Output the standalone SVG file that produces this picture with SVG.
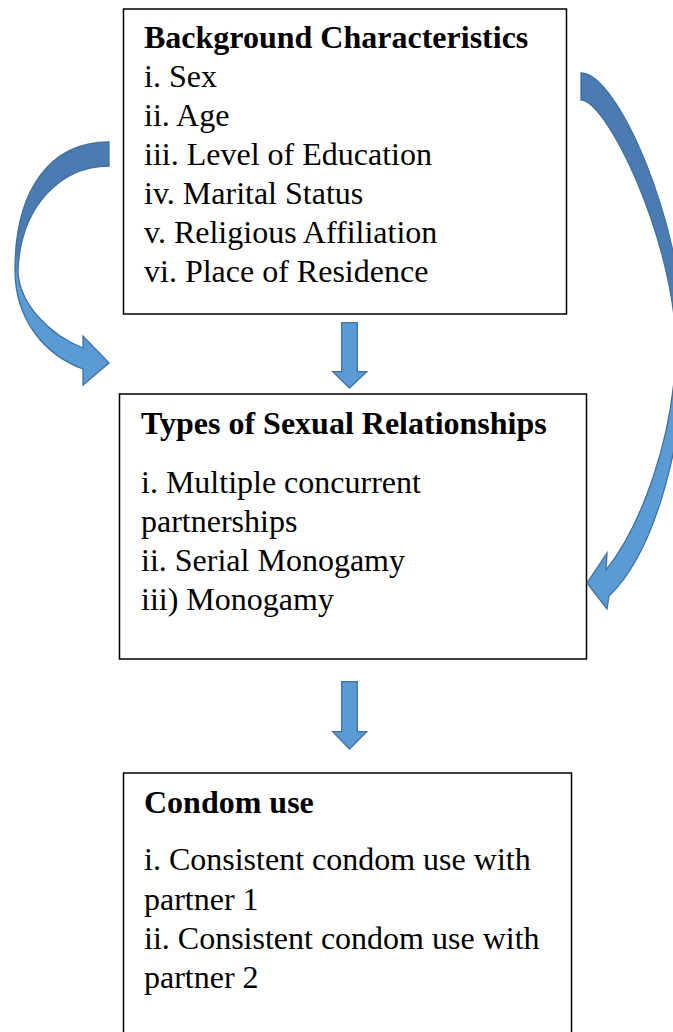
<svg xmlns="http://www.w3.org/2000/svg" width="673" height="1032" viewBox="0 0 673 1032">
<style>
.box{fill:#fff;stroke:#000;stroke-width:1.5}
.t{font-family:"Liberation Serif","Times New Roman",serif;font-size:32px;fill:#000}
.b{font-weight:bold}
.arr{fill:#5B9BD5;stroke:#41719C;stroke-width:1.3;stroke-linejoin:miter}
</style>
<defs>
<linearGradient id="gl" x1="0" y1="0" x2="0" y2="1">
<stop offset="0" stop-color="#4A7CB2"/>
<stop offset="0.45" stop-color="#4A7CB2"/>
<stop offset="0.56" stop-color="#5B9BD5"/>
<stop offset="1" stop-color="#5B9BD5"/>
</linearGradient>
<linearGradient id="gr" x1="0" y1="0" x2="0" y2="1">
<stop offset="0" stop-color="#4A7CB2"/>
<stop offset="0.40" stop-color="#4A7CB2"/>
<stop offset="0.60" stop-color="#5B9BD5"/>
<stop offset="1" stop-color="#5B9BD5"/>
</linearGradient>
</defs>
<g id="node-background">
<rect class="box" x="123.5" y="9" width="443" height="305"/>
<text class="t b" x="144" y="48">Background Characteristics</text>
<text class="t" x="144" y="87">i. Sex</text>
<text class="t" x="144" y="126">ii. Age</text>
<text class="t" x="144" y="165">iii. Level of Education</text>
<text class="t" x="144" y="204">iv. Marital Status</text>
<text class="t" x="144" y="243">v. Religious Affiliation</text>
<text class="t" x="144" y="282">vi. Place of Residence</text>
</g>
<g id="node-types">
<rect class="box" x="119.5" y="394" width="467" height="265"/>
<text class="t b" x="141" y="434">Types of Sexual Relationships</text>
<text class="t" x="141" y="493">i. Multiple concurrent</text>
<text class="t" x="141" y="532">partnerships</text>
<text class="t" x="141" y="571">ii. Serial Monogamy</text>
<text class="t" x="141" y="610">iii) Monogamy</text>
</g>
<g id="node-condom">
<rect class="box" x="123.5" y="773" width="448" height="275"/>
<text class="t b" x="144" y="813">Condom use</text>
<text class="t" x="144" y="870">i. Consistent condom use with</text>
<text class="t" x="144" y="910">partner 1</text>
<text class="t" x="144" y="949">ii. Consistent condom use with</text>
<text class="t" x="144" y="988">partner 2</text>
</g>
<g id="connectors">
<path class="arr" d="M341.7,322.7 H357.3 V371.7 H366.7 L349.5,388 L332.7,371.7 H341.7 Z"/>
<path class="arr" d="M341.7,681.7 H357.3 V731.7 H366.7 L349.5,749 L332.7,731.7 H341.7 Z"/>
<path class="arr" style="fill:url(#gl)" d="M109,142 C50,142 15,190 15,270 C15,320 45,355 83,369 L83,385 L109,363 L83,336 L83,348 C50,335 20,305 18,272 C20,205 62,166 109,166 Z"/>
<path class="arr" style="fill:url(#gr)" d="M581,73 C617,73 682,220 684,340 C685,450 652,555 609,596 L607,609 L587,583 L607,553 L606,570 C638,530 676,440 676,340 C671,232 606,100 581,100 Z"/>
</g>
</svg>
